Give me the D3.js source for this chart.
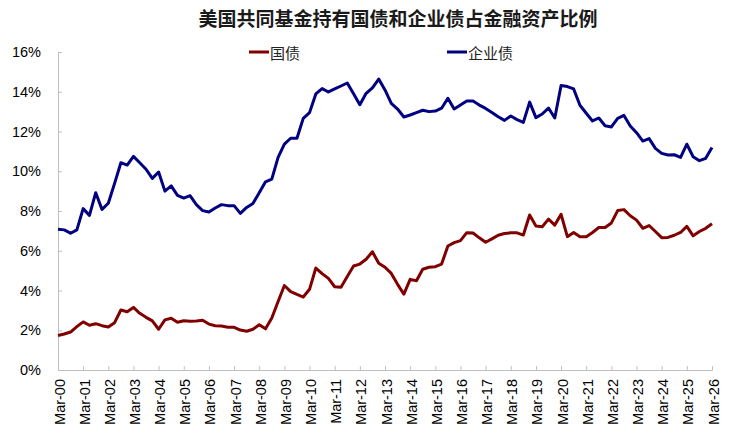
<!DOCTYPE html>
<html>
<head>
<meta charset="utf-8">
<script src="https://cdn.jsdelivr.net/npm/d3@7"></script>
<style>
  html, body { margin: 0; padding: 0; background: #fff; }
  svg { display: block; font-family: "Liberation Sans", Arial, sans-serif; }
</style>
</head>
<body>
<svg id="chart" width="741" height="443"></svg>
<script>
const title = "美国共同基金持有国债和企业债占金融资产比例";
const seriesNames = ["国债", "企业债"];
const tickLabels = ["Mar-00","Mar-01","Mar-02","Mar-03","Mar-04","Mar-05","Mar-06","Mar-07","Mar-08","Mar-09","Mar-10","Mar-11","Mar-12","Mar-13","Mar-14","Mar-15","Mar-16","Mar-17","Mar-18","Mar-19","Mar-20","Mar-21","Mar-22","Mar-23","Mar-24","Mar-25","Mar-26"];
const yTicks = [0, 2, 4, 6, 8, 10, 12, 14, 16];

// quarterly values, Mar-00 .. Mar-26 (%)
const treasury = [
  1.74,1.81,1.91,2.18, 2.42,2.25,2.33,2.23, 2.16,2.38,3.02,2.93, 3.15,2.85,2.65,2.47,
  2.05,2.52,2.60,2.40, 2.48,2.45,2.47,2.50, 2.31,2.23,2.21,2.15, 2.15,2.01,1.95,2.05,
  2.28,2.07,2.62,3.45, 4.25,3.94,3.80,3.67, 4.06,5.13,4.85,4.61, 4.19,4.16,4.70,5.23,
  5.33,5.57,5.95,5.37, 5.17,4.86,4.31,3.82, 4.56,4.49,5.07,5.17, 5.20,5.33,6.24,6.41,
  6.51,6.91,6.89,6.65, 6.43,6.60,6.78,6.87, 6.90,6.90,6.79,7.80, 7.25,7.21,7.59,7.29,
  7.83,6.71,6.92,6.71, 6.71,6.92,7.17,7.17, 7.40,8.02,8.07,7.76, 7.54,7.13,7.27,6.97,
  6.66,6.67,6.78,6.92, 7.23,6.75,6.97,7.13, 7.36
];
const corporate = [
  7.08,7.05,6.88,7.05, 8.12,7.78,8.92,8.08, 8.39,9.39,10.43,10.31, 10.75,10.43,10.10,9.64,
  9.96,9.00,9.26,8.79, 8.65,8.77,8.32,8.02, 7.95,8.15,8.32,8.27, 8.27,7.88,8.18,8.38,
  8.92,9.47,9.60,10.70, 11.37,11.66,11.66,12.66, 12.95,13.89,14.16,13.99, 14.14,14.29,14.44,13.90,
  13.35,13.92,14.20,14.64, 14.09,13.42,13.13,12.73, 12.83,12.95,13.07,13.00, 13.03,13.17,13.67,13.13,
  13.33,13.53,13.53,13.33, 13.16,12.96,12.74,12.56, 12.78,12.60,12.46,13.48, 12.70,12.88,13.18,12.68,
  14.31,14.26,14.14,13.32, 12.92,12.53,12.68,12.29, 12.23,12.66,12.81,12.28, 11.94,11.52,11.64,11.15,
  10.90,10.82,10.83,10.70, 11.36,10.73,10.53,10.65, 11.20
];
const colors = ["#800000", "#000080"];

const svg = d3.select("#chart");
const margin = { left: 58, right: 29, top: 52, bottom: 73 };
const W = 741, H = 443;

const x = d3.scaleLinear().domain([0, treasury.length - 1]).range([margin.left, W - margin.right]);
const y = d3.scaleLinear().domain([0, 16]).range([H - margin.bottom, margin.top]);

// title
svg.append("text")
  .attr("x", 398).attr("y", 26)
  .attr("text-anchor", "middle")
  .attr("font-family", "'Noto Sans CJK SC', sans-serif")
  .attr("font-weight", "bold")
  .attr("font-size", 19)
  .attr("fill", "#1a1a1a")
  .text(title);

const axisColor = "#bfbfbf";

// y axis
const yAxis = d3.axisLeft(y).tickValues(yTicks).tickSize(-4).tickPadding(17).tickFormat(d => d + "%");
const gy = svg.append("g").attr("transform", `translate(${margin.left},0)`).call(yAxis);
gy.select(".domain").attr("stroke", axisColor);
gy.selectAll(".tick line").attr("stroke", axisColor);
gy.selectAll(".tick text").attr("font-size", 14.5).attr("fill", "#000")
  .attr("font-family", "'Liberation Sans', Arial, sans-serif");

// x axis
const xTickVals = tickLabels.map((_, i) => i * 4);
const xAxis = d3.axisBottom(x).tickValues(xTickVals).tickSize(-4).tickFormat((d, i) => tickLabels[i]);
const gx = svg.append("g").attr("transform", `translate(0,${H - margin.bottom})`).call(xAxis);
gx.select(".domain").attr("stroke", axisColor);
gx.selectAll(".tick line").attr("stroke", axisColor);
gx.selectAll(".tick text")
  .attr("font-size", 14.5).attr("fill", "#000")
  .attr("font-family", "'Liberation Sans', Arial, sans-serif")
  .attr("text-anchor", "end")
  .attr("dy", null)
  .attr("dominant-baseline", "central")
  .attr("transform", "translate(1,9) rotate(-90)")
  .attr("y", 0).attr("x", 0);

// lines
const line = d3.line().x((d, i) => x(i)).y(d => y(d));
[treasury, corporate].forEach((s, k) => {
  svg.append("path")
    .datum(s)
    .attr("fill", "none")
    .attr("stroke", colors[k])
    .attr("stroke-width", 3)
    .attr("stroke-linejoin", "round")
    .attr("d", line);
});

// legend
const legendPos = [{ x: 249 }, { x: 447 }];
seriesNames.forEach((name, k) => {
  const g = svg.append("g").attr("transform", `translate(${legendPos[k].x},52)`);
  g.append("line").attr("x1", 0).attr("x2", 20).attr("y1", 0).attr("y2", 0)
    .attr("stroke", colors[k]).attr("stroke-width", 3);
  g.append("text").attr("x", 21).attr("y", 0)
    .attr("dominant-baseline", "central")
    .attr("font-family", "'Noto Sans CJK SC', sans-serif")
    .attr("font-size", 15).attr("fill", "#222")
    .text(name);
});
</script>
</body>
</html>
